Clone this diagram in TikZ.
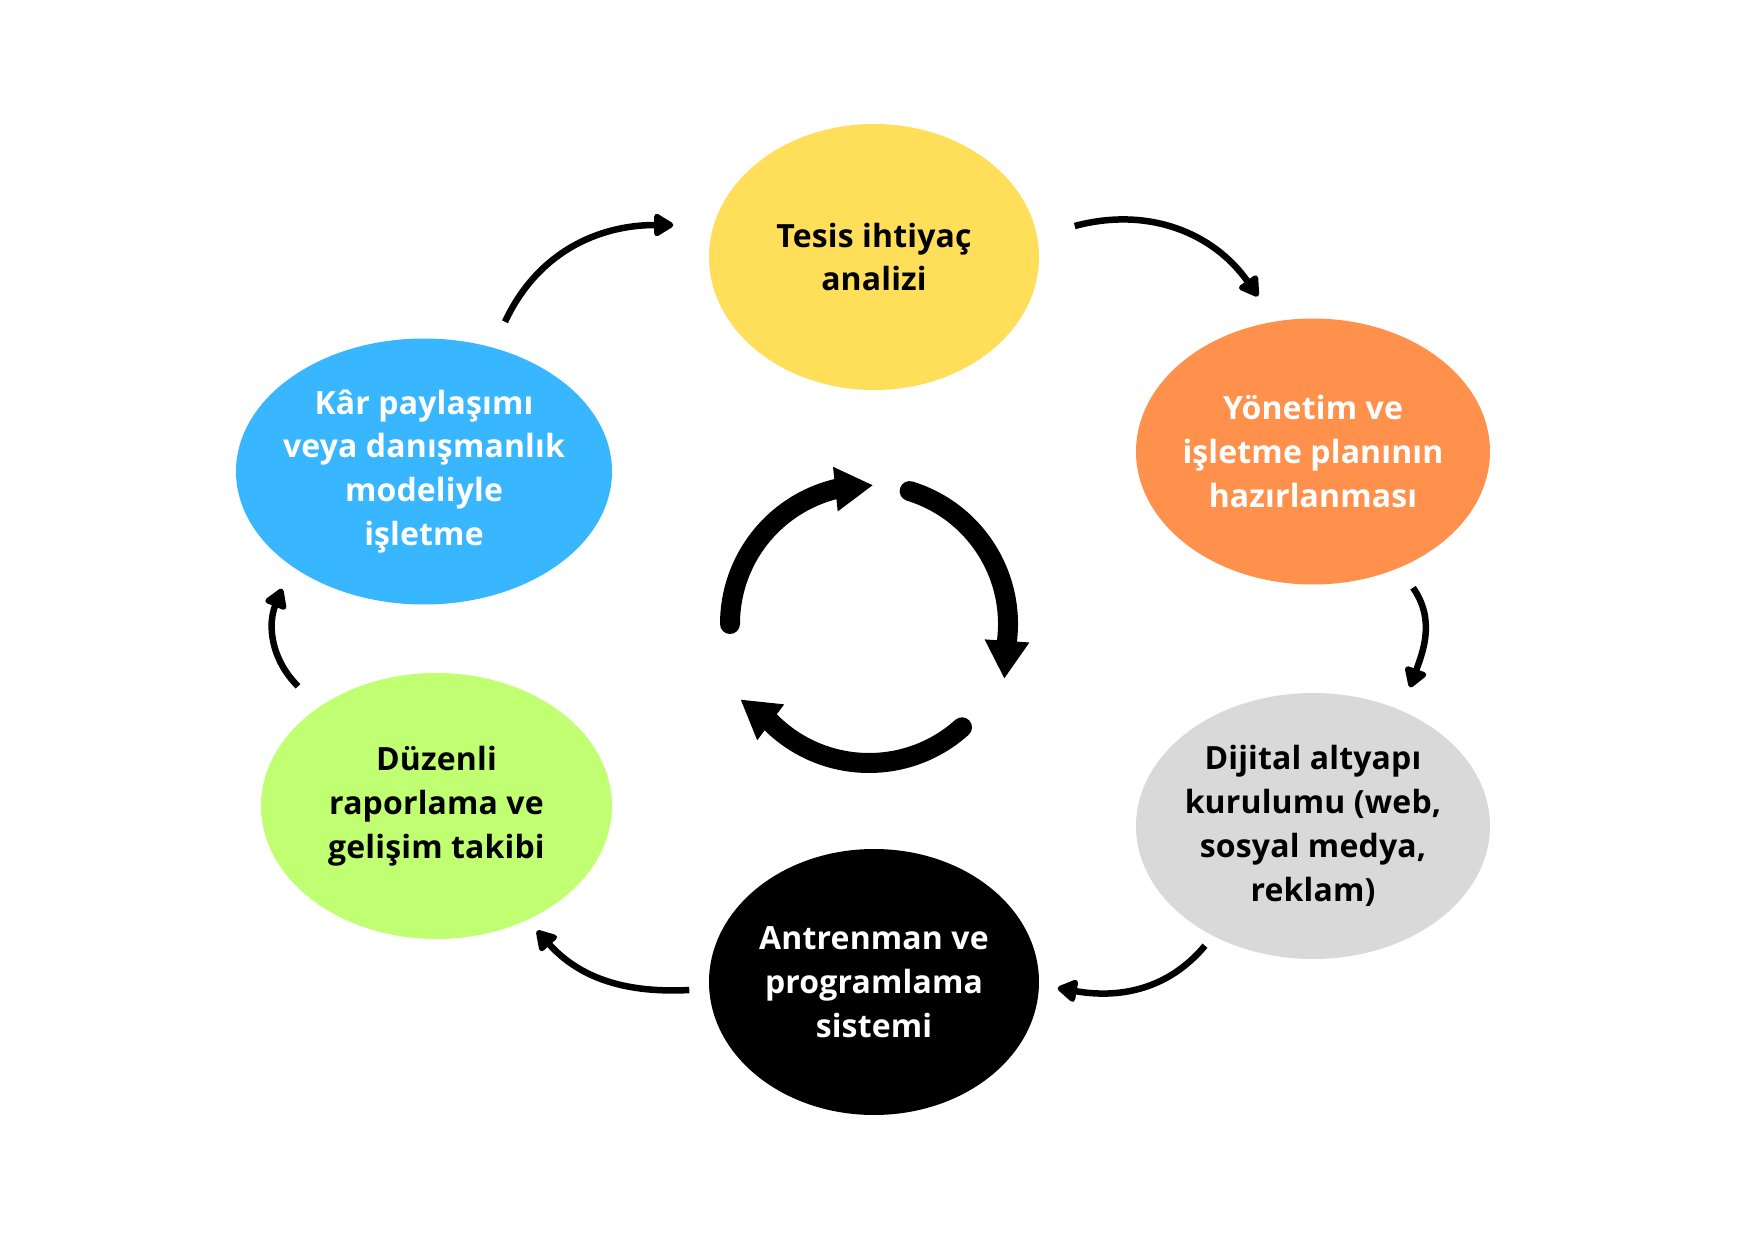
\documentclass[tikz,border=0pt]{standalone}
\usepackage{xcolor}
\usepackage{tikz}
\usepackage{fontspec}
\usetikzlibrary{shapes,arrows.meta,positioning,calc}
\setmainfont{Open Sans}[LetterSpace=0.5]
\definecolor{stageyellow}{RGB}{255,222,89}
\definecolor{stageorange}{RGB}{255,145,77}
\definecolor{stageblue}{RGB}{56,182,255}
\definecolor{stagegreen}{RGB}{193,255,114}
\definecolor{stagegray}{RGB}{217,217,217}

\begin{document}
\begin{tikzpicture}[
        stage/.style={ellipse, inner sep=-5mm, minimum height=2.66cm, align=center,
              font=\fontsize{9.1}{12.5}\selectfont\bfseries},
        flowarrow/.style={line width=0.65mm, -{Triangle[length=2.2mm, width=2.5mm, round]}},
        cyclearrow/.style={line width=2mm, line cap=round, -{Triangle[length=3.8mm, width=4.2mm]}}
    ]
        \useasboundingbox (0,0) rectangle (17.48,12.40);

        \node[stage, fill=stageyellow, minimum width=3.30cm] (tesis) at (8.74,9.83) {
            Tesis ihtiyaç\\analizi};
        \node[stage, fill=stageorange, text=white, minimum width=3.54cm] (yonetim) at (13.13,7.885) {
            Yönetim ve\\işletme planının\\hazırlanması};
        \node[stage, fill=stagegray, minimum width=3.54cm] (dijital) at (13.13,4.14) {
            Dijital altyapı\\kurulumu (web,\\sosyal medya,\\reklam)};
        \node[stage, fill=black, text=white, minimum width=3.30cm] (antrenman) at (8.74,2.58) {
            Antrenman ve\\programlama\\sistemi};
        \node[stage, fill=stagegreen, minimum width=3.51cm] (duzenli) at (4.365,4.34) {
            Düzenli\\raporlama ve\\gelişim takibi};
        \node[stage, fill=stageblue, text=white, minimum width=3.76cm] (kar) at (4.24,7.685) {
            Kâr paylaşımı\\veya danışmanlık\\modeliyle\\işletme};

        \draw[flowarrow] ($(kar.north)+(0.81,0.16)$) to[out=65, in=180] ($(tesis.west)+(-0.35,0.32)$);
        \draw[flowarrow] ($(tesis.east)+(0.35,0.31)$) to[out=15, in=125] ($(yonetim.north)+(-0.55,0.215)$);
        \draw[flowarrow] ($(yonetim.south)+(1.00,-0.025)$) to[out=-55, in=70] ($(dijital.north)+(0.97,0.05)$);
        \draw[flowarrow] ($(dijital.south)+(-1.08,0.14)$) to[out=-130, in=-10] ($(antrenman.east)+(0.18,-0.06)$);
        \draw[flowarrow] ($(antrenman.west)+(-0.19,-0.08)$) to[out=183, in=-48] ($(duzenli.south)+(1.005,0.09)$);
        \draw[flowarrow] ($(duzenli.north)+(-1.385,-0.14)$) to[out=135, in=-112] ($(kar.south)+(-1.42,0.165)$);

        \coordinate (hub) at (8.69,6.16);
        \draw[cyclearrow] ([shift={(180:1.39)}]hub) arc[start angle=180, end angle=104, radius=1.39] -- ++(6:0.38);
        \draw[cyclearrow] ([shift={(73:1.39)}]hub) arc[start angle=73, end angle=-7, radius=1.39] -- ++(-94:0.38);
        \draw[cyclearrow] ([shift={(-48:1.39)}]hub) arc[start angle=-48, end angle=-135, radius=1.39] -- ++(143:0.38);
\end{tikzpicture}
\end{document}
